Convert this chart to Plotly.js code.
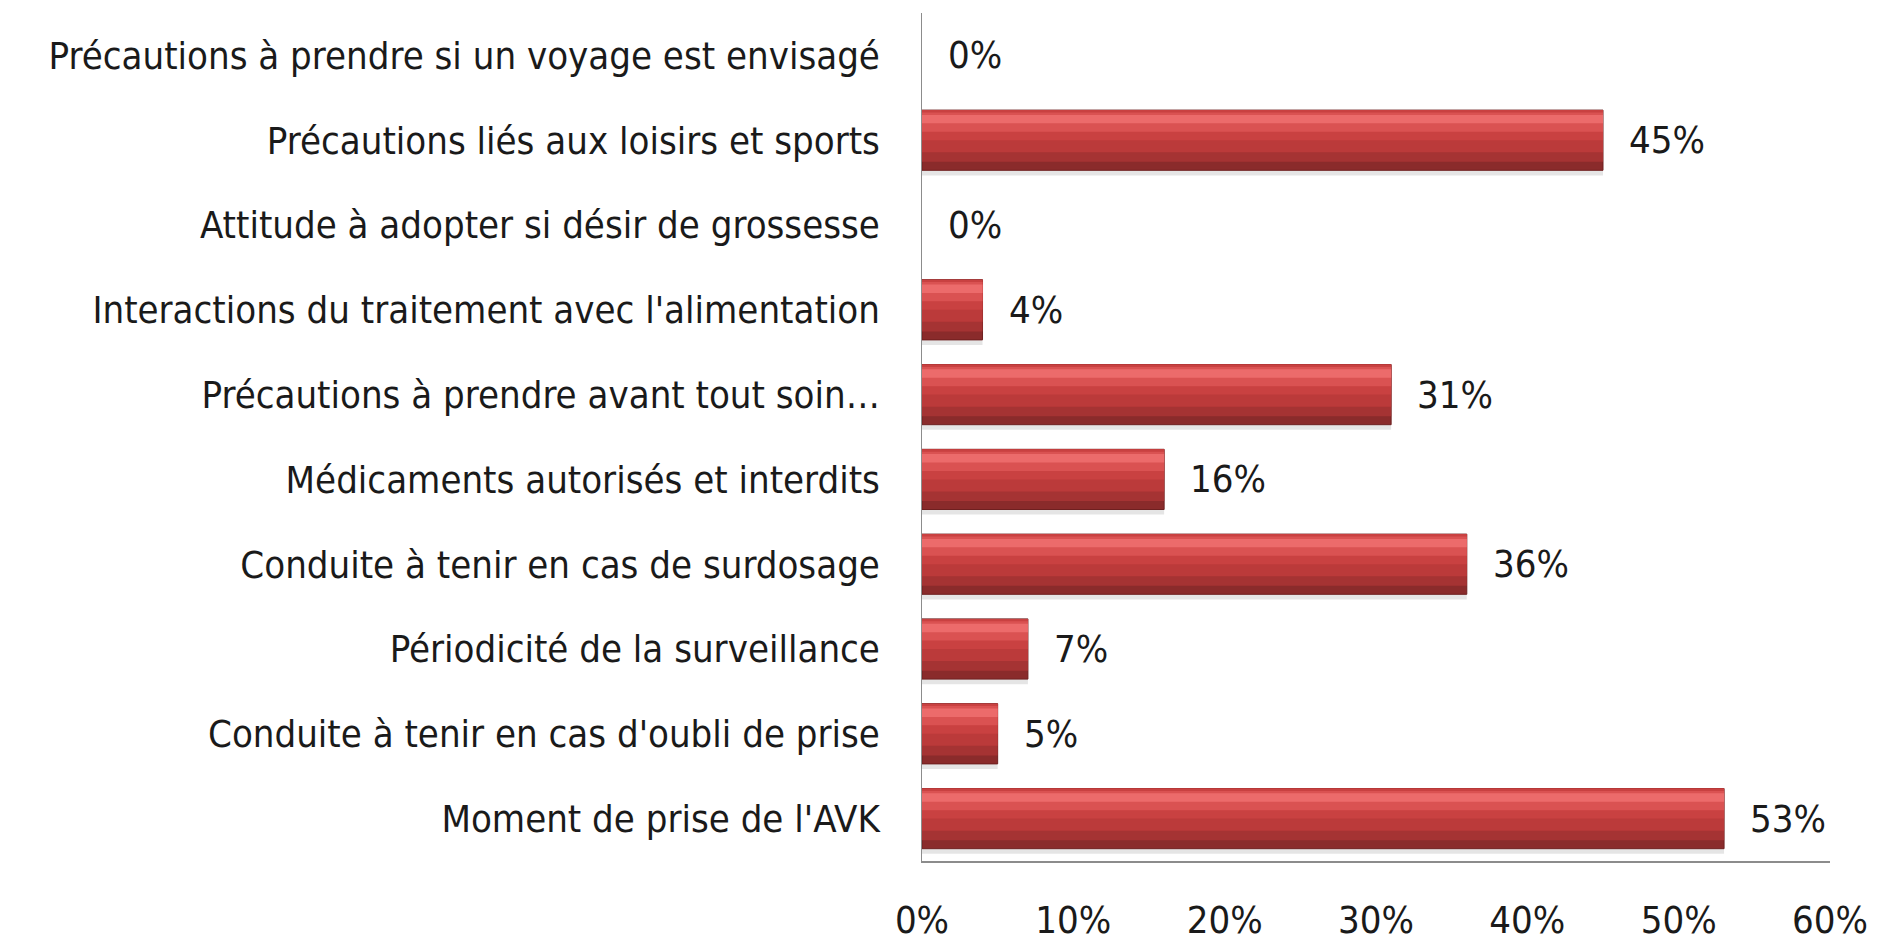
<!DOCTYPE html>
<html>
<head>
<meta charset="utf-8">
<script src="https://cdn.plot.ly/plotly-3.0.1.min.js"></script>
<style>html,body{margin:0;padding:0;background:#fff;}#chart{width:1894px;height:944px;}</style>
</head>
<body>
<div id="chart"></div>
<script>
// Categories listed top to bottom as in the chart
const categories = [
  "Précautions à prendre si un voyage est envisagé",
  "Précautions liés aux loisirs et sports",
  "Attitude à adopter si désir de grossesse",
  "Interactions du traitement avec l'alimentation",
  "Précautions à prendre avant tout soin…",
  "Médicaments autorisés et interdits",
  "Conduite à tenir en cas de surdosage",
  "Périodicité de la surveillance",
  "Conduite à tenir en cas d'oubli de prise",
  "Moment de prise de l'AVK"
];
const percentValues = [0, 45, 0, 4, 31, 16, 36, 7, 5, 53];
const xTickValues = [0, 0.1, 0.2, 0.3, 0.4, 0.5, 0.6];

const fracs = percentValues.map(v => v / 100);
const FONT = '"DejaVu Sans Condensed", "Liberation Sans Narrow", "Open Sans", sans-serif';
const FS = 38;
const W = 0.71;
const edgeWidths = percentValues.map(v => v > 0 ? 1 : 0);

function layer(width, offset, color, lineColor) {
  return {
    type: 'bar', orientation: 'h', y: categories, x: fracs,
    width: width, offset: offset,
    marker: {color: color, line: lineColor ? {color: lineColor, width: edgeWidths} : {width: 0}},
    hoverinfo: 'skip', showlegend: false
  };
}

// stacked bands to imitate the glossy gradient
const traces = [
  layer(W, -W/2 + 0.06, 'rgba(0,0,0,0.10)'),
  layer(W, -W/2, '#8a2b2b', '#6e2020'),
  layer(W * 0.86, -W/2, '#a53333'),
  layer(W * 0.70, -W/2, '#bb3a3a'),
  layer(W * 0.50, -W/2, '#c94141'),
  layer(W * 0.32, -W/2 + W * 0.04, '#da5252'),
  layer(W * 0.14, -W/2 + W * 0.08, '#ec6b6b')
];

const annotations = categories.map((c, i) => ({
  x: fracs[i], y: c, xref: 'x', yref: 'y',
  text: percentValues[i] + '%', showarrow: false,
  xanchor: 'left', xshift: 24,
  font: {family: FONT, size: FS, color: '#1a1a1a'}
}));

const layout = {
  width: 1894, height: 944,
  margin: {l: 922, r: 64, t: 13, b: 83, pad: 0},
  paper_bgcolor: '#fff', plot_bgcolor: '#fff',
  barmode: 'overlay',
  font: {family: FONT, size: FS, color: '#1a1a1a'},
  xaxis: {
    range: [0, 0.6], tickvals: xTickValues, tickformat: '.0%',
    showgrid: false, zeroline: false, showline: true,
    linecolor: '#8c8c8c', linewidth: 1.5,
    ticks: '', ticklabelstandoff: 25,
    tickfont: {family: FONT, size: FS, color: '#1a1a1a'}
  },
  yaxis: {
    type: 'category', autorange: 'reversed',
    showgrid: false, zeroline: false, showline: true,
    linecolor: '#8c8c8c', linewidth: 1.5,
    ticks: '', ticklabelstandoff: 33,
    tickfont: {family: FONT, size: FS, color: '#1a1a1a'}
  },
  annotations: annotations
};

Plotly.newPlot('chart', traces, layout, {displayModeBar: false, staticPlot: true});
</script>
</body>
</html>
